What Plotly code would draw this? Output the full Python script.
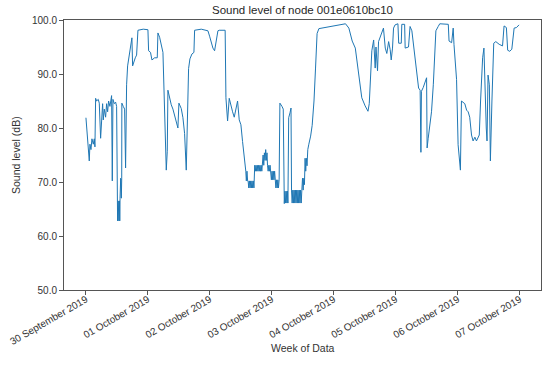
import pandas as pd
import plotly.graph_objects as go

# Hours since 2019-09-30 00:00 and sound level (dB)
hours = [
    0.0, 0.26, 0.52, 1.29, 1.55, 1.94, 2.32, 2.84, 3.23, 3.48, 3.74, 4.13, 4.77, 5.16, 5.68,
    6.06, 6.45, 6.71, 7.1, 7.61, 8.0, 8.39, 8.77, 9.29, 9.68, 9.93, 10.2, 10.45, 10.97, 11.48,
    11.87, 12.1, 12.25, 12.5, 12.75, 13.0, 13.1, 13.2, 13.45, 13.7, 13.85, 13.9, 14.45, 14.97,
    15.35, 15.74, 16.13, 16.65, 17.03, 17.42, 17.8, 18.07, 18.58, 19.1, 19.61, 20.13, 22.19,
    24.0, 24.26, 25.0, 25.55, 26.58, 27.61, 27.87, 28.52, 29.16, 29.81, 31.1, 31.49, 31.74,
    32.39, 33.03, 33.68, 34.32, 34.97, 35.61, 36.0, 36.52, 36.9, 37.55, 38.19, 38.84, 39.23,
    39.74, 40.26, 41.03, 41.81, 42.07, 44.65, 47.23, 47.87, 48.52, 49.16, 49.81, 50.45, 51.1,
    51.6, 53.9, 54.2, 54.84, 55.48, 56.13, 56.78, 57.42, 58.06, 58.71, 59.35, 60.0, 60.64,
    61.29, 61.68,
    61.9, 62.1, 62.35, 62.6,
    62.8, 63.05, 63.3, 63.55, 63.8, 64.05, 64.3, 64.55, 64.8, 65.05,
    65.1, 65.35, 65.6, 65.85, 66.1, 66.35, 66.6, 66.85, 67.1, 67.35, 67.6, 67.85, 68.1, 68.35,
    68.6, 68.85, 69.1, 69.35, 69.6, 69.85, 70.1, 70.3,
    70.55, 70.8, 71.05, 71.3, 71.55,
    71.8, 72.05, 72.3, 72.55, 72.8, 73.05, 73.3,
    73.55, 73.8, 74.05, 74.3, 74.55, 74.8,
    75.1, 75.9, 76.4, 76.8,
    77.05, 77.3, 77.55, 77.8, 78.05, 78.2,
    78.5, 79.0, 79.4, 79.6,
    79.85, 80.1, 80.35, 80.6, 80.85, 81.1, 81.35, 81.6, 81.85, 82.1, 82.35, 82.6, 82.85, 83.1,
    83.35, 83.6,
    83.85, 84.1, 84.35, 84.6,
    84.85, 85.1, 85.35, 85.6,
    85.9, 86.3, 87.0, 87.6, 88.3, 88.9, 89.5, 90.2, 93.4, 97.3, 100.5, 101.8, 103.1,
    104.3, 105.6, 106.8, 108.1, 109.2, 109.7, 110.1, 110.7, 111.4, 112.0, 112.3, 112.9, 113.3,
    114.6, 115.2, 115.9, 116.5, 117.2, 117.8, 118.2, 118.7, 119.1, 119.7, 120.8, 121.1, 122.1,
    122.3, 123.4, 123.6, 124.9, 125.5, 126.2, 126.9, 127.5, 128.1, 128.8, 129.4, 129.7, 129.9,
    130.6, 131.9, 132.1, 132.5, 133.2, 133.8, 134.5, 135.1, 135.5, 136.4, 137.0, 140.3, 140.6,
    141.6, 142.2, 142.5, 143.5, 144.1, 144.5, 145.0, 145.4, 146.0, 146.7, 147.4, 148.0, 148.6,
    149.3, 149.9, 150.6, 151.2, 151.9, 152.3, 152.8, 153.6, 154.1, 154.5, 155.0, 155.3, 155.7,
    156.2, 156.6, 157.2, 157.9, 158.7, 160.0, 161.3, 161.9, 162.8, 163.3, 164.1, 164.9, 165.8,
    166.7, 167.7,
]

level = [
    81.9, 80.5, 79.5, 73.9, 77.0, 76.0, 78.0, 77.0, 78.0, 76.5, 85.5, 85.0, 85.3, 84.6, 78.1,
    82.0, 84.5, 81.5, 83.5, 82.0, 84.5, 83.0, 85.0, 84.0, 85.3, 86.0, 70.2, 85.3, 84.5, 84.8,
    84.0, 66.5, 62.8, 66.5, 62.8, 66.5, 62.8, 67.0, 70.7, 67.0, 70.7, 84.6, 84.0, 83.5,
    72.6, 88.0, 91.5, 93.0, 94.5, 95.5, 96.7, 91.5, 92.4, 93.0, 93.5, 98.1, 98.3,
    98.2, 94.3, 94.0, 92.6, 93.0, 93.0, 97.6, 96.8, 95.4, 94.0, 72.2, 75.7, 87.0,
    85.6, 84.3, 83.5, 82.4, 81.5, 80.0, 84.6, 84.0, 83.6, 81.9, 79.0, 72.2, 83.0,
    91.0, 92.8, 93.7, 94.0, 98.1, 98.3, 98.0, 97.0, 95.8, 94.8, 94.3, 96.5, 98.0,
    98.1, 98.1, 85.6, 81.3, 85.5, 84.0, 83.0, 82.0, 83.5, 85.0, 81.5, 80.6, 77.5,
    75.0, 73.0,
    72.0, 70.2, 72.0, 70.2,
    70.2, 68.9, 70.2, 68.9, 70.2, 68.9, 70.2, 68.9, 70.2, 68.9,
    72.0, 73.1, 72.0, 73.1, 72.0, 73.1, 72.0, 73.1, 72.0, 73.1, 72.0, 73.1, 72.0, 73.1,
    75.0, 73.1, 75.4, 74.0, 76.0, 74.0, 75.4, 73.1,
    72.0, 73.1, 72.0, 73.1, 72.0,
    70.4, 72.0, 70.4, 72.0, 70.4, 72.0, 70.4,
    68.9, 70.4, 68.9, 70.4, 68.9, 70.4,
    84.6, 84.0, 83.5, 66.0,
    68.3, 66.1, 68.3, 66.1, 68.3, 66.1,
    81.9, 82.8, 83.7, 68.5,
    66.1, 68.5, 66.1, 68.5, 66.1, 68.5, 66.1, 68.5, 66.1, 68.5, 66.1, 68.5, 66.1, 68.5,
    66.1, 68.5,
    70.7, 68.5, 70.7, 69.5,
    74.4, 72.0, 74.4, 73.0,
    76.0, 77.0, 78.5, 80.5, 85.0, 91.1, 97.5, 98.4, 98.7, 99.0, 99.3, 98.5, 96.1,
    94.8, 89.8, 85.6, 84.1, 83.1, 84.5, 88.0, 94.3, 96.3, 91.1, 95.0, 90.6, 96.0,
    98.0, 98.5, 94.8, 93.8, 96.0, 94.5, 92.6, 94.8, 98.5, 99.1, 99.3, 95.7, 95.7,
    99.2, 99.2, 94.8, 95.0, 98.8, 98.0, 94.8, 92.4, 90.0, 87.4, 87.0, 75.5, 86.8,
    87.5, 89.3, 76.3, 78.0, 80.6, 83.0, 88.0, 94.8, 98.0, 98.8, 99.3, 99.2, 96.1,
    95.8, 98.5, 95.5, 89.0, 76.9, 73.9, 72.2, 85.0, 84.8, 84.5, 83.3, 83.0, 82.0,
    78.7, 77.6, 78.3, 77.6, 78.5, 78.7, 85.0, 93.0, 94.8, 87.0, 80.0, 77.6, 89.8,
    88.0, 73.9, 85.0, 95.7, 96.0, 95.5, 95.2, 98.9, 98.6, 94.4, 94.2, 94.6, 98.5,
    98.6, 99.1,
]

tick_dates = ["2019-09-30", "2019-10-01", "2019-10-02", "2019-10-03",
              "2019-10-04", "2019-10-05", "2019-10-06", "2019-10-07"]
tick_labels = ["30 September 2019", "01 October 2019", "02 October 2019", "03 October 2019",
               "04 October 2019", "05 October 2019", "06 October 2019", "07 October 2019"]
y_ticks = [50, 60, 70, 80, 90, 100]

start = pd.Timestamp("2019-09-30 00:00")
times = start + pd.to_timedelta(hours, unit="h")

fig = go.Figure()
fig.add_trace(go.Scatter(
    x=times, y=level, mode="lines",
    line=dict(color="#1f77b4", width=1),
    showlegend=False,
))

font_family = "Liberation Sans, Arial, sans-serif"
axis_color = "#555555"
text_color = "#333333"

fig.update_layout(
    width=550, height=371,
    margin=dict(l=64, r=9, t=20, b=81),
    paper_bgcolor="white", plot_bgcolor="white",
    font=dict(family=font_family, size=10, color=text_color),
    title=dict(text="Sound level of node 001e0610bc10", xref="paper", x=0.5, xanchor="center",
               yref="container", y=1 - 10 / 371, yanchor="middle",
               font=dict(size=11.5, color="#262626")),
    annotations=[
        dict(text="Week of Data", xref="paper", x=0.5, yref="paper", y=-(348 - 290) / 270,
             xanchor="center", yanchor="middle", showarrow=False,
             font=dict(size=10.5, color=text_color)),
        dict(text="Sound level (dB)", xref="paper", x=-(64 - 16) / 477, yref="paper", y=0.5,
             xanchor="center", yanchor="middle", textangle=-90, showarrow=False,
             font=dict(size=10.5, color=text_color)),
    ],
)
fig.update_xaxes(
    range=[start - pd.Timedelta(hours=8.5), start + pd.Timedelta(hours=176.2)],
    tickvals=pd.to_datetime(tick_dates), ticktext=tick_labels, tickangle=-30,
    showline=True, linecolor=axis_color, linewidth=1, mirror=True,
    ticks="outside", ticklen=4, tickcolor=axis_color, showgrid=False, zeroline=False,
    tickfont=dict(size=10, color=text_color), automargin=False, ticklabelstandoff=-5,
)
fig.update_yaxes(
    range=[50, 100], tickvals=y_ticks, tickformat=".1f",
    showline=True, linecolor=axis_color, linewidth=1, mirror=True,
    ticks="outside", ticklen=4, tickcolor=axis_color, showgrid=False, zeroline=False,
    tickfont=dict(size=10, color=text_color), automargin=False,
)

fig.write_html("out.html", config={"displayModeBar": False},
               post_script="document.body.style.margin='0';")
